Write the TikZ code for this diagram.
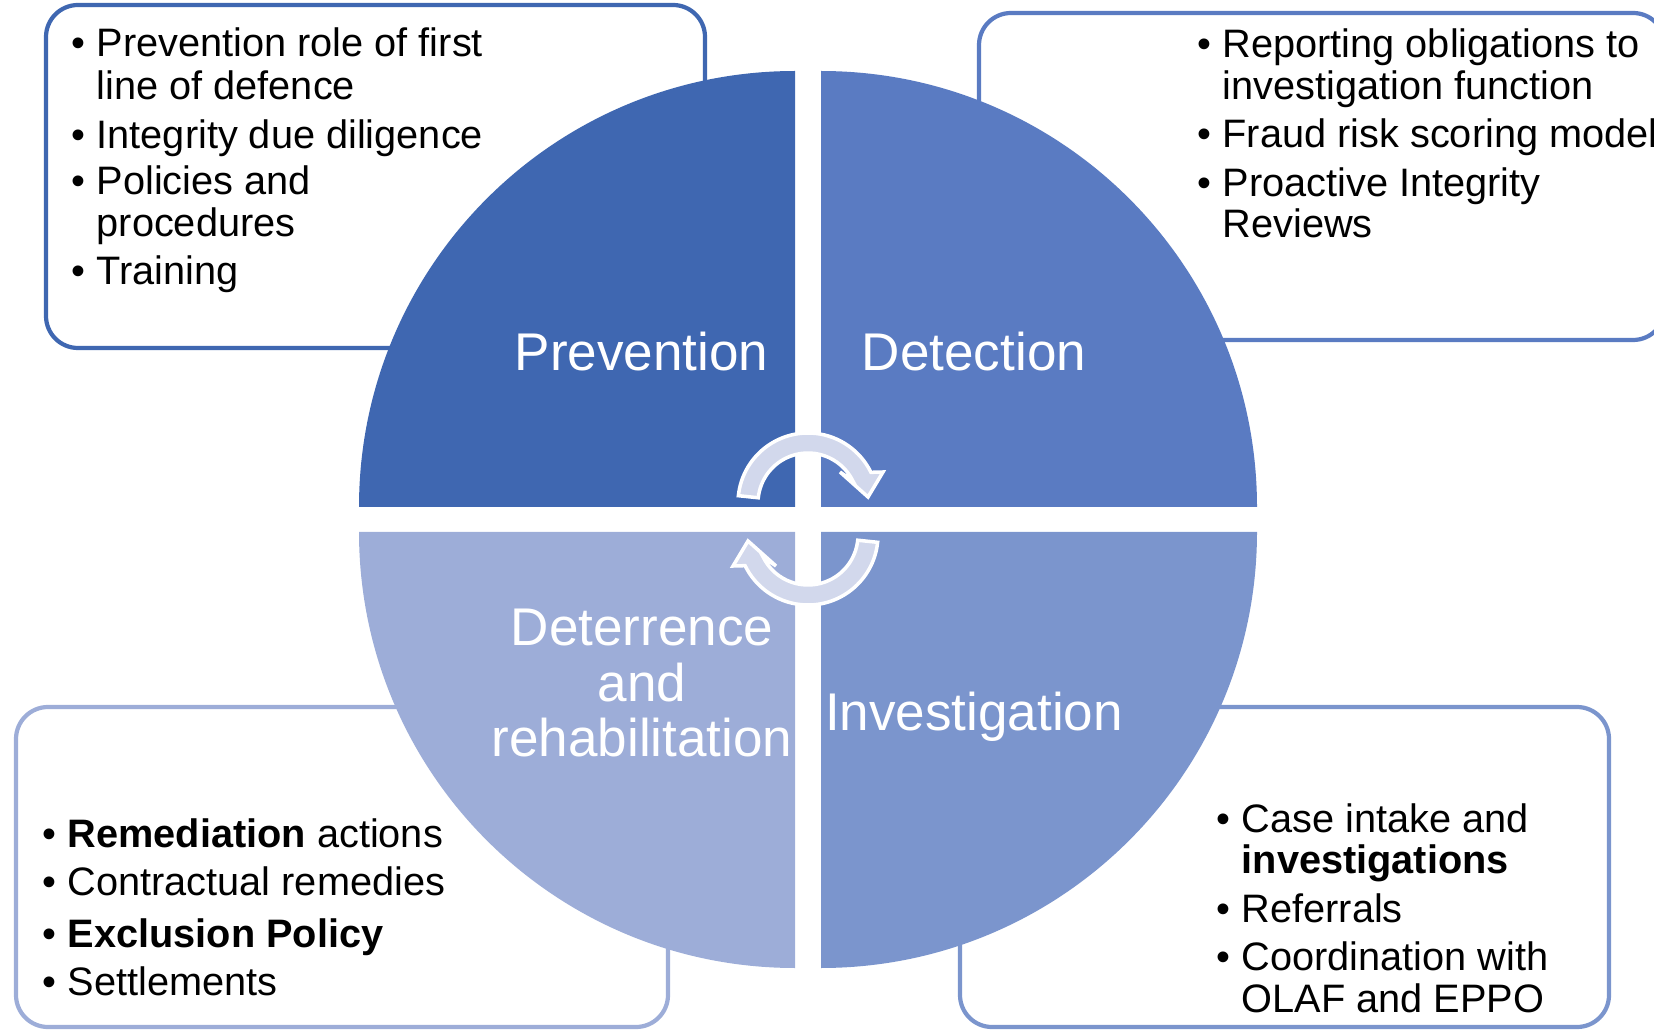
\documentclass[tikz,border=0pt]{standalone}
\usepackage{fontspec}
\setmainfont{Liberation Sans}

\definecolor{prevBlue}{RGB}{63,103,177}
\definecolor{detBlue}{RGB}{90,123,194}
\definecolor{invBlue}{RGB}{123,149,205}
\definecolor{detrBlue}{RGB}{157,173,216}
\definecolor{arrowFill}{RGB}{210,216,236}

\begin{document}
\begin{tikzpicture}
[boxDecorate/.style={draw,line width=1.2pt,rounded corners=0.32cm,fill=white,inner sep=0pt},%
  itemDecorate/.style={anchor=base west,inner sep=0pt,font=\fontsize{11.3pt}{12pt}\selectfont},%
  bulletDecorate/.style={anchor=base east,inner sep=0pt,font=\fontsize{11.3pt}{12pt}\selectfont},%
  labelDecorate/.style={text=white,inner sep=0pt,align=center,font=\fontsize{15.1pt}{15.9pt}\selectfont},%
  arrowDecorate/.style={fill=arrowFill,draw=white,line width=1pt}]
\useasboundingbox (0,0) rectangle (16.54,10.30);
%% boxes behind the circle
\foreach \nodename/\x/\y/\w/\h/\col in {
  boxPrev/3.755/8.535/6.59/3.43/prevBlue, boxDet/13.22/8.535/6.86/3.27/detBlue,
  boxDetr/3.42/1.63/6.52/3.20/detrBlue, boxInv/12.845/1.63/6.49/3.20/invBlue}
{
  \node (\nodename) at (\x,\y) [boxDecorate,draw=\col,minimum width=\w cm,minimum height=\h cm] {};
}
%% quadrants
\foreach \col/\x/\y/\start in {
  prevBlue/7.95/5.23/90, detBlue/8.21/5.23/0,
  detrBlue/7.95/4.98/180, invBlue/8.21/4.98/270}
{
  \fill[\col] (\x,\y) -- ++(\start:4.36) arc[start angle=\start,delta angle=90,radius=4.36] -- cycle;
}
%% cycle arrows
\foreach \cx/\cy/\rot in {8.08/5.27/0, 8.08/4.95/180}
{
  \draw[arrowDecorate,shift={(\cx,\cy)},rotate=\rot] (174:0.70)
    arc[start angle=174,end angle=26,radius=0.70] -- (0.75,0.31) -- (0.60,0.06)
    -- (0.32,0.31) -- (26:0.50) arc[start angle=26,end angle=174,radius=0.50] -- cycle;
}
%% quadrant labels
\node (prevLabel) at (6.415,6.59) [labelDecorate,anchor=base] {Prevention};
\node (detLabel) at (9.74,6.59) [labelDecorate,anchor=base] {Detection};
\node (invLabel) at (9.74,3.00) [labelDecorate,anchor=base] {Investigation};
\node (detrLabel) at (6.42,3.47) [labelDecorate] {Deterrence\\and\\rehabilitation};
%% box texts
\foreach \nodename/\x/\y/\txt in {
  %% prevention
  pv1/0.96/9.73/Prevention role of first, pv2/0.96/9.30/line of defence,
  pv3/0.96/8.81/Integrity due diligence, pv4/0.96/8.35/Policies and,
  pv5/0.96/7.93/procedures, pv6/0.96/7.45/Training,
  %% detection
  dt1/12.22/9.72/Reporting obligations to, dt2/12.22/9.30/investigation function,
  dt3/12.22/8.82/Fraud risk scoring model, dt4/12.22/8.33/Proactive Integrity,
  dt5/12.22/7.92/Reviews,
  %% deterrence
  dr1/0.67/1.83/{\textbf{Remediation} actions}, dr2/0.67/1.35/Contractual remedies,
  dr3/0.67/0.83/{\textbf{Exclusion Policy}}, dr4/0.67/0.35/Settlements,
  %% investigation
  iv1/12.41/1.98/Case intake and, iv2/12.41/1.57/{\textbf{investigations}},
  iv3/12.41/1.08/Referrals, iv4/12.41/0.60/Coordination with,
  iv5/12.41/0.18/OLAF and EPPO}
{
  \node (\nodename) at (\x,\y) [itemDecorate] {\txt};
}
%% bullets
\foreach \nodename in {pv1,pv3,pv4,pv6,dt1,dt3,dt4,dr1,dr2,dr3,dr4,iv1,iv3,iv4}
{
  \node (b\nodename) at ([xshift=-0.095cm]\nodename.base west) [bulletDecorate] {\textbullet};
}
\end{tikzpicture}
\end{document}
